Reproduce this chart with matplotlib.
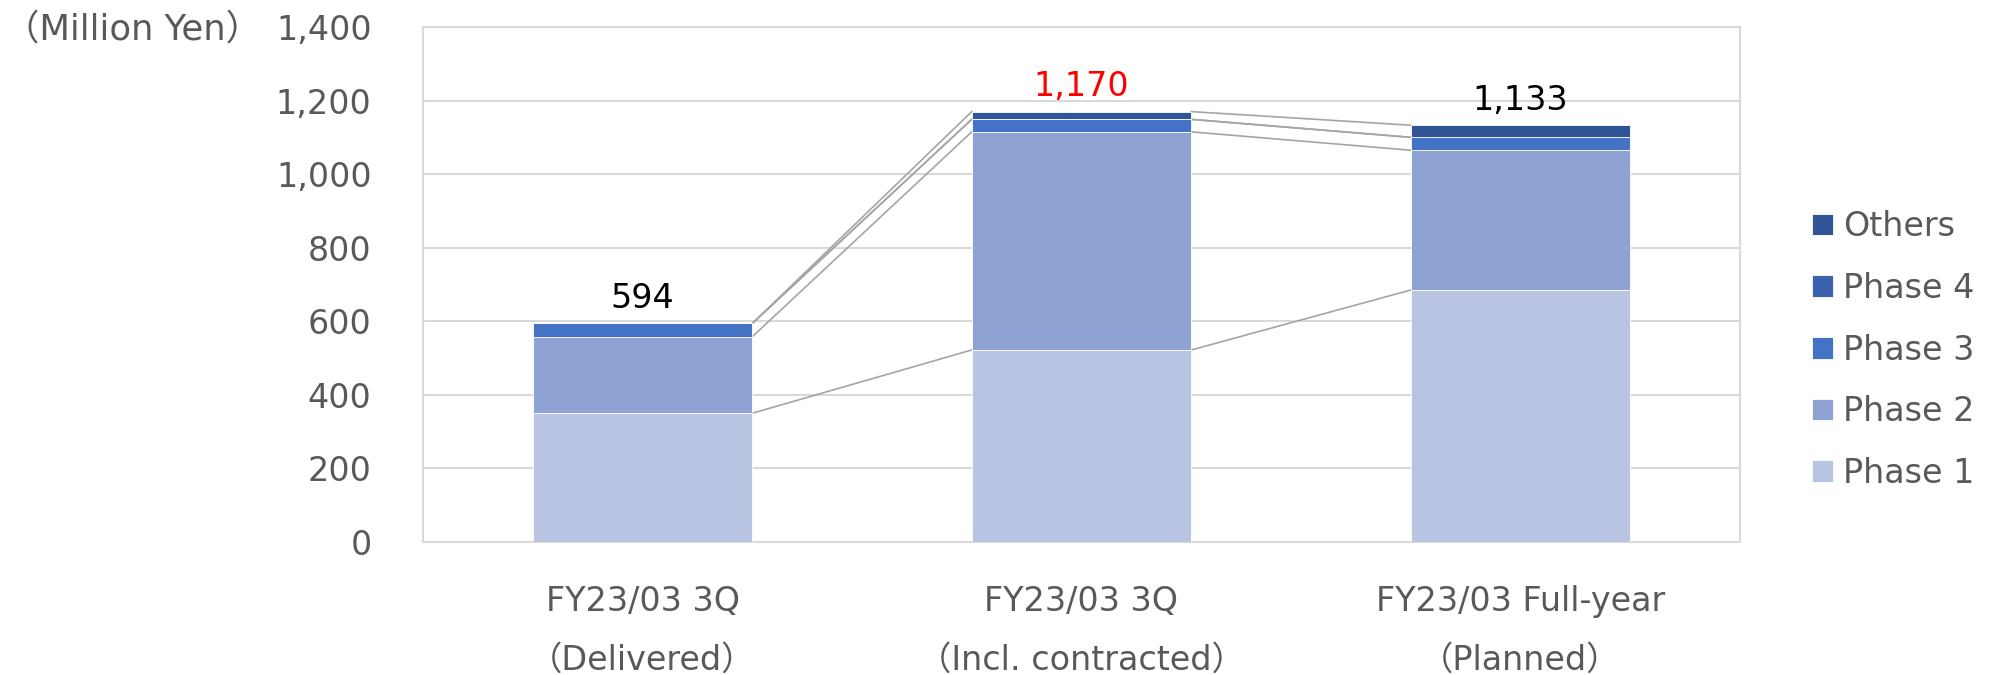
import numpy as np
import matplotlib
matplotlib.use('Agg')
import matplotlib.pyplot as plt

plt.rcParams['font.family'] = ['DejaVu Sans', 'Noto Sans CJK JP']

# Data (Million Yen)
categories = ["FY23/03 3Q\n（Delivered）",
              "FY23/03 3Q\n（Incl. contracted）",
              "FY23/03 Full-year\n（Planned）"]
series_names = ["Phase 1", "Phase 2", "Phase 3", "Phase 4", "Others"]
phase1 = [350, 522, 685]
phase2 = [208, 593, 380]
phase3 = [36, 34, 35]
phase4 = [0, 0, 0]
others = [0, 21, 33]
totals = [594, 1170, 1133]
total_colors = ["#000000", "#FF0000", "#000000"]

colors = ["#B9C3E2", "#8FA2D4", "#4472C4", "#3A62AE", "#2F5597"]
TEXT = "#595959"
GRID = "#D9D9D9"
W = 0.5
FS = 24

fig = plt.figure(figsize=(19.95, 6.75), dpi=100)
ax = fig.add_axes([423 / 1995, (675 - 542) / 675, (1740 - 423) / 1995, (542 - 27) / 675])

x = np.arange(len(categories))
data = [phase1, phase2, phase3, phase4, others]
bottom = np.zeros(len(categories))
tops = []
handles = []
for vals, name, c in zip(data, series_names, colors):
    vals = np.array(vals, dtype=float)
    h = ax.bar(x, vals, W, bottom=bottom, color=c, edgecolor="white",
               linewidth=0.6, label=name, zorder=3)
    handles.append(h)
    bottom = bottom + vals
    tops.append(bottom.copy())

# series lines connecting tops of each segment
for top in tops:
    for i in range(len(categories) - 1):
        ax.plot([x[i] + W / 2, x[i + 1] - W / 2], [top[i], top[i + 1]],
                color="#A5A5A5", linewidth=1.2, zorder=2)

# total labels
for i, (t, c) in enumerate(zip(totals, total_colors)):
    ax.annotate(f"{t:,}", (x[i], t), xytext=(0, 11), textcoords="offset points",
                ha="center", va="baseline", fontsize=FS, color=c)

ax.set_xlim(-0.5, len(categories) - 0.5)
ax.set_ylim(0, 1400)
ax.set_yticks(np.arange(0, 1401, 200))
ax.yaxis.set_major_formatter(matplotlib.ticker.FuncFormatter(lambda v, p: f"{int(v):,}"))
ax.set_xticks(x)
ax.set_xticklabels(categories, linespacing=2.0)
ax.tick_params(axis="y", length=0, pad=37, labelsize=FS, labelcolor=TEXT)
ax.tick_params(axis="x", length=0, pad=31, labelsize=FS, labelcolor=TEXT)
ax.grid(axis="y", color=GRID, linewidth=1.5, zorder=0)
for s in ax.spines.values():
    s.set_color(GRID)
    s.set_linewidth(1.5)

fig.text(132 / 1995, 1 - 30 / 675, "（Million Yen）", fontsize=25.5, color=TEXT,
         ha="center", va="center")

ax.legend(handles[::-1], series_names[::-1], loc="center left",
          bbox_to_anchor=(1812 / 1995, 1 - 350 / 675), bbox_transform=fig.transFigure,
          borderaxespad=0, borderpad=0, frameon=False, fontsize=FS,
          labelcolor=TEXT, handlelength=0.63, handleheight=0.63,
          handletextpad=0.3, labelspacing=0.86)

fig.savefig("out.png", dpi=100)
